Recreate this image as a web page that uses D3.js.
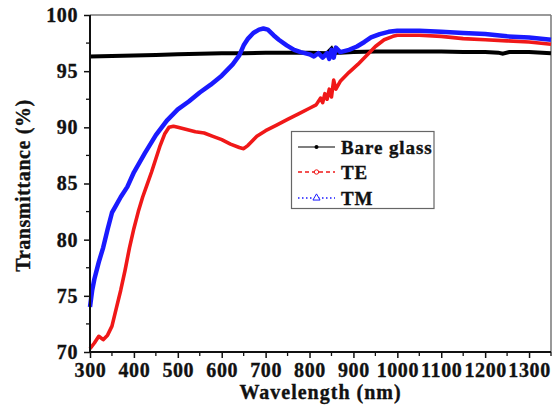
<!DOCTYPE html>
<html><head><meta charset="utf-8">
<script src="https://cdn.jsdelivr.net/npm/d3@7"></script>
<style>body{margin:0;background:#fff}svg{display:block}text{font-family:"Liberation Serif","Times New Roman",serif;font-weight:bold;fill:#111;stroke:#111;stroke-width:0.35px}</style>
</head><body>
<svg id="c" width="556" height="406"></svg>
<script>
const xTicks = [300,400,500,600,700,800,900,1000,1100,1200,1300];
const yTicks = [70,75,80,85,90,95,100];

const bareWl = [300,350,400,450,500,550,600,650,700,750,800,840,850,855,870,900,950,1000,1050,1100,1150,1200,1230,1240,1255,1300,1350];
const bareT  = [96.3,96.35,96.4,96.45,96.5,96.55,96.6,96.6,96.65,96.65,96.65,96.6,97.0,96.6,96.65,96.7,96.75,96.75,96.75,96.75,96.7,96.7,96.65,96.55,96.7,96.7,96.6];

const teWl = [300,310,320,330,340,350,360,370,380,390,400,410,420,430,440,450,460,470,480,490,500,520,540,560,580,600,620,640,650,660,670,680,700,725,750,775,800,815,825,830,835,840,845,850,855,860,870,890,910,930,950,970,990,1000,1050,1100,1150,1200,1250,1300,1350];
const teT  = [70.3,70.8,71.4,71.1,71.5,72.3,73.9,75.5,77.3,79.3,81.0,82.5,83.8,84.9,86.0,87.2,88.4,89.4,90.0,90.1,90.0,89.8,89.6,89.5,89.2,88.9,88.5,88.2,88.1,88.4,88.8,89.2,89.7,90.2,90.7,91.2,91.7,92.0,92.6,92.2,93.0,92.5,93.4,92.7,94.2,93.4,94.1,94.9,95.6,96.4,97.2,97.8,98.1,98.2,98.2,98.1,97.9,97.8,97.7,97.6,97.4];

const tmWl = [300,305,310,320,330,340,350,360,370,385,400,425,450,475,500,525,550,575,600,625,640,650,660,672,685,695,705,718,730,748,765,780,800,810,820,830,840,845,850,855,860,870,890,908,925,940,960,980,1000,1050,1100,1150,1200,1250,1300,1350];
const tmT  = [74.0,75.5,76.5,78.0,79.3,80.9,82.4,83.1,83.8,84.7,86.0,87.7,89.3,90.6,91.6,92.3,93.1,93.8,94.6,95.6,96.4,97.3,97.9,98.4,98.7,98.8,98.7,98.2,97.8,97.3,96.9,96.7,96.5,96.3,96.6,96.2,96.6,96.1,96.9,96.2,97.1,96.7,96.9,97.2,97.6,98.0,98.3,98.5,98.6,98.6,98.5,98.4,98.3,98.1,98.0,97.8];

const seriesNames = ["Bare glass","TE","TM"];

const svg = d3.select("#c");
const L=90, R=551, T=15, B=352;
const x = d3.scaleLinear().domain([300,1350]).range([L,R]);
const y = d3.scaleLinear().domain([70,100]).range([B,T]);

svg.append("line").attr("x1",L).attr("x2",R).attr("y1",T).attr("y2",T).attr("stroke","#777").attr("stroke-width",1.5);
svg.append("line").attr("x1",R).attr("x2",R).attr("y1",T).attr("y2",B).attr("stroke","#777").attr("stroke-width",1.5);

const line = d3.line().x(d=>x(d[0])).y(d=>y(d[1])).curve(d3.curveLinear);
const zip=(a,b)=>a.map((v,i)=>[v,b[i]]);

svg.append("path").datum(zip(bareWl,bareT)).attr("d",line).attr("fill","none").attr("stroke","#000").attr("stroke-width",4);
svg.append("path").datum(zip(teWl,teT)).attr("d",line).attr("fill","none").attr("stroke","#f01818").attr("stroke-width",3.6).attr("stroke-linejoin","round");
svg.append("path").datum(zip(tmWl,tmT)).attr("d",line).attr("fill","none").attr("stroke","#1a1aff").attr("stroke-width",4.5).attr("stroke-linejoin","round");

const xMinor = d3.range(350,1351,100);
const yMinor = d3.range(72.5,100,5);
const gx = svg.append("g").attr("transform",`translate(0,${B})`)
  .call(d3.axisBottom(x).tickValues(xTicks).tickSize(6).tickFormat(d3.format("d")).tickPadding(5));
gx.selectAll(".tick line").attr("stroke","#111").attr("stroke-width",1.5);
gx.select(".domain").attr("stroke","#111").attr("stroke-width",2).attr("d",`M${L},0H${R}`);
gx.selectAll("text").style("font-size","20px").style("letter-spacing","0.6px").attr("fill","#111");
svg.append("g").attr("transform",`translate(0,${B})`).selectAll("line").data(xMinor).join("line")
  .attr("x1",d=>x(d)).attr("x2",d=>x(d)).attr("y1",0).attr("y2",4).attr("stroke","#111").attr("stroke-width",1.3);

const gy = svg.append("g").attr("transform",`translate(${L},0)`)
  .call(d3.axisLeft(y).tickValues(yTicks).tickSize(6).tickPadding(6));
gy.selectAll(".tick line").attr("stroke","#111").attr("stroke-width",1.5);
gy.select(".domain").attr("stroke","#111").attr("stroke-width",2).attr("d",`M0,${T}V${B}`);
gy.selectAll("text").style("font-size","20px").style("letter-spacing","0.6px").attr("fill","#111");
svg.append("g").attr("transform",`translate(${L},0)`).selectAll("line").data(yMinor).join("line")
  .attr("y1",d=>y(d)).attr("y2",d=>y(d)).attr("x1",0).attr("x2",-4).attr("stroke","#111").attr("stroke-width",1.3);

svg.append("text").attr("x",(L+R)/2).attr("y",399).attr("text-anchor","middle").style("font-size","20px").style("letter-spacing","1px").text("Wavelength (nm)");
svg.append("text").attr("transform",`translate(30,${(T+B)/2+2}) rotate(-90)`).attr("text-anchor","middle").style("font-size","20px").style("letter-spacing","0.6px").text("Transmittance (%)");

const lg = svg.append("g");
lg.append("rect").attr("x",291.5).attr("y",131.5).attr("width",142.5).attr("height",77).attr("fill","#fff").attr("stroke","#666").attr("stroke-width",1.2);
const rows=[147,172,198];
const colors=["#000","#f01818","#1a1aff"];
const dashes=[null,"4,3","1.5,2.5"];
rows.forEach((ry,i)=>{
  lg.append("line").attr("x1",298).attr("x2",335).attr("y1",ry).attr("y2",ry).attr("stroke",colors[i]).attr("stroke-width",i==0?1.2:1.3).attr("stroke-dasharray",dashes[i]);
  if(i==0) lg.append("circle").attr("cx",316.5).attr("cy",ry).attr("r",2).attr("fill","#000");
  if(i==1) lg.append("circle").attr("cx",316.5).attr("cy",ry).attr("r",2.2).attr("fill","#fff").attr("stroke",colors[i]).attr("stroke-width",1);
  if(i==2) lg.append("path").attr("d",d3.symbol(d3.symbolTriangle,22)()).attr("transform",`translate(316.5,${ry})`).attr("fill","#fff").attr("stroke",colors[i]).attr("stroke-width",1);
  lg.append("text").attr("x",341).attr("y",ry+6.5).style("font-size","19px").style("letter-spacing","0.9px").text(seriesNames[i]);
});
</script>
</body></html>
